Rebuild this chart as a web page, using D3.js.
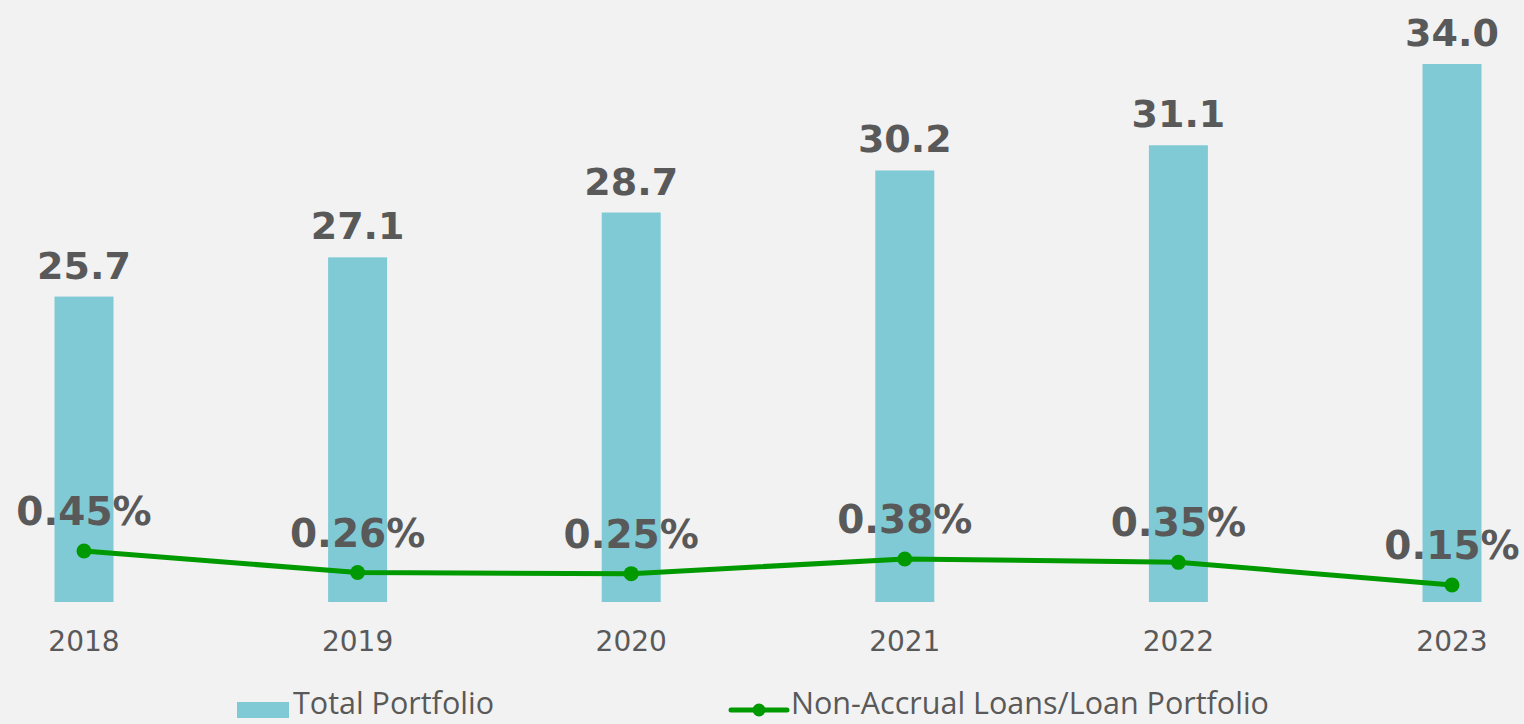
<!DOCTYPE html>
<meta charset="utf-8">
<html>
<head>
<script src="https://cdn.jsdelivr.net/npm/d3@7"></script>
<style>
body { margin: 0; background: #f2f2f2; }
.barLabel, .pctLabel { font-family: "DejaVu Sans", sans-serif; font-weight: bold; fill: #595959; }
.yearLabel { font-family: "DejaVu Sans", sans-serif; fill: #595959; }
.legendText { font-family: "Open Sans", sans-serif; fill: #595959; }
</style>
</head>
<body>
<script>

// chart data ----------------------------------------------------------------
var years     = ["2018", "2019", "2020", "2021", "2022", "2023"];
var portfolio = [25.7, 27.1, 28.7, 30.2, 31.1, 34.0];
var nonAccrual = [0.45, 0.26, 0.25, 0.38, 0.35, 0.15];
var seriesNames = ["Total Portfolio", "Non-Accrual Loans/Loan Portfolio"];

var W = 1524, H = 724;
var barColor = "#80cad6", lineColor = "#009a00";

var svg = d3.select("body").append("svg")
  .attr("width", W)
  .attr("height", H);

svg.append("rect").attr("width", W).attr("height", H).attr("fill", "#f2f2f2");

var x = d3.scaleBand()
  .domain(years)
  .range([-52.8, 1588.8])
  .paddingInner(1 - 59 / 273.6)
  .paddingOuter((1 - 59 / 273.6) / 2);

var yBar = d3.scaleLinear().domain([14.8, 34]).range([602, 64]);
var yPct = d3.scaleLinear().domain([0, 0.45]).range([602, 551]);

function cx(i) { return x(years[i]) + x.bandwidth() / 2; }

// bars
svg.selectAll(".bar")
  .data(portfolio)
  .enter().append("rect")
  .attr("class", "bar")
  .attr("x", function(d, i) { return x(years[i]); })
  .attr("y", function(d) { return yBar(d); })
  .attr("width", x.bandwidth())
  .attr("height", function(d) { return yBar.range()[0] - yBar(d); })
  .attr("fill", barColor);

svg.selectAll(".barLabel")
  .data(portfolio)
  .enter().append("text")
  .attr("class", "barLabel")
  .attr("x", function(d, i) { return cx(i); })
  .attr("y", function(d) { return yBar(d) - 18; })
  .attr("text-anchor", "middle")
  .style("font-size", "38px")
  .text(function(d) { return d.toFixed(1); });

// year labels
svg.selectAll(".yearLabel")
  .data(years)
  .enter().append("text")
  .attr("class", "yearLabel")
  .attr("x", function(d, i) { return cx(i); })
  .attr("y", 651)
  .attr("text-anchor", "middle")
  .style("font-size", "28px")
  .text(function(d) { return d; });

// line
var line = d3.line()
  .x(function(d, i) { return cx(i); })
  .y(function(d) { return yPct(d); });

svg.append("path")
  .datum(nonAccrual)
  .attr("d", line)
  .attr("fill", "none")
  .attr("stroke", lineColor)
  .attr("stroke-width", 5);

svg.selectAll(".dot")
  .data(nonAccrual)
  .enter().append("circle")
  .attr("cx", function(d, i) { return cx(i); })
  .attr("cy", function(d) { return yPct(d); })
  .attr("r", 7.5)
  .attr("fill", lineColor);

svg.selectAll(".pctLabel")
  .data(nonAccrual)
  .enter().append("text")
  .attr("class", "pctLabel")
  .attr("x", function(d, i) { return cx(i); })
  .attr("y", function(d) { return yPct(d) - 26; })
  .attr("text-anchor", "middle")
  .style("font-size", "39px")
  .text(function(d) { return d.toFixed(2) + "%"; });

// legend
var lg = svg.append("g");
lg.append("rect").attr("x", 237).attr("y", 702).attr("width", 52).attr("height", 16).attr("fill", barColor);
lg.append("text").attr("class", "legendText").attr("x", 293).attr("y", 714)
  .style("font-size", "30.5px").text(seriesNames[0]);

lg.append("line").attr("x1", 731).attr("x2", 787).attr("y1", 710).attr("y2", 710)
  .attr("stroke", lineColor).attr("stroke-width", 5).attr("stroke-linecap", "round");
lg.append("circle").attr("cx", 759).attr("cy", 710).attr("r", 6.5).attr("fill", lineColor);
lg.append("text").attr("class", "legendText").attr("x", 791).attr("y", 714)
  .style("font-size", "30.5px").text(seriesNames[1]);

</script>
</body>
</html>
